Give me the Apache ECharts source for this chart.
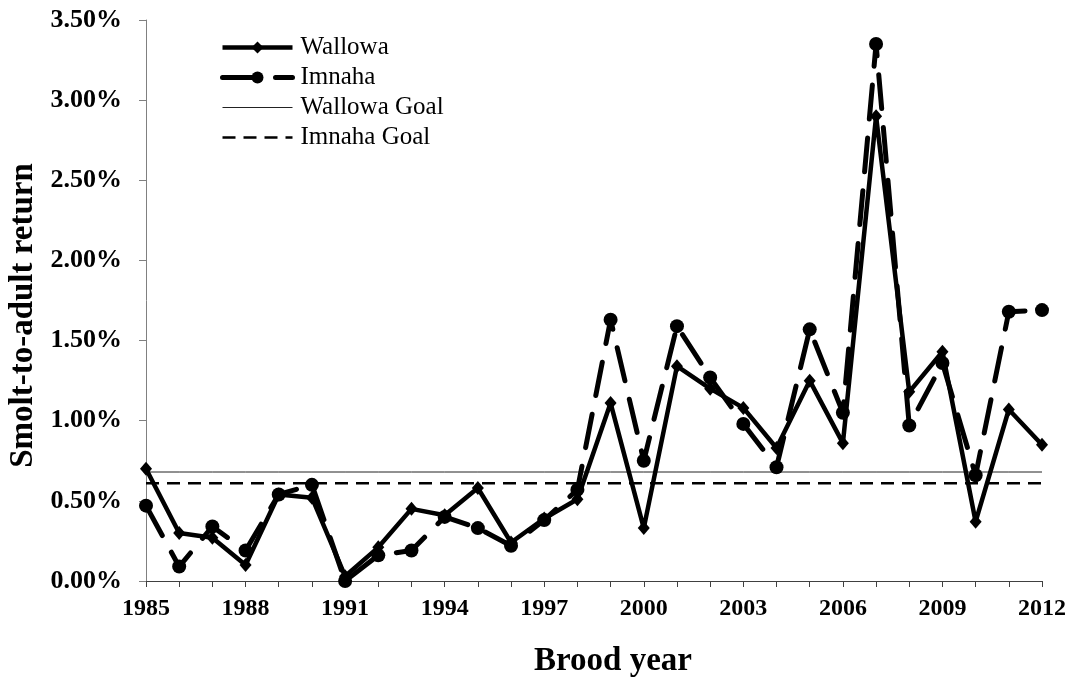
<!DOCTYPE html>
<html>
<head>
<meta charset="utf-8">
<title>Smolt-to-adult return by brood year</title>
<script src="https://cdn.jsdelivr.net/npm/echarts@6/dist/echarts.min.js"></script>
<style>
  html, body { margin: 0; padding: 0; background: #fff; }
  #chart { width: 1073px; height: 678px; }
</style>
</head>
<body>
<div id="chart"></div>
<script>
// Brood years on the x axis
const years = ['1985','1986','1987','1988','1989','1990','1991','1992','1993','1994',
  '1995','1996','1997','1998','1999','2000','2001','2002','2003','2004',
  '2005','2006','2007','2008','2009','2010','2011','2012'];

// Smolt-to-adult return, in percent
const wallowa = [0.70,0.30,0.27,0.10,0.54,0.52,0.03,0.21,0.45,0.41,
  0.58,0.24,0.39,0.51,1.11,0.33,1.34,1.20,1.08,0.83,
  1.25,0.86,2.90,1.18,1.43,0.37,1.07,0.85];
const imnaha = [0.47,0.09,0.34,0.19,0.54,0.60,0.00,0.16,0.19,0.40,
  0.33,0.22,0.38,0.57,1.63,0.75,1.59,1.27,0.98,0.71,
  1.57,1.05,3.35,0.97,1.36,0.66,1.68,1.69];

// Program goals, in percent
const wallowaGoal = 0.68;
const imnahaGoal = 0.61;

const yTicks = { min: 0, max: 3.5, step: 0.5 };

const serif = '"Liberation Serif", "Times New Roman", serif';
const chart = echarts.init(document.getElementById('chart'), null, { renderer: 'canvas' });

// shared line styles for plot and legend
const wallowaLine = { color: '#000', width: 4.5 };
const imnahaLine = { color: '#000', width: 5, type: [34, 19], cap: 'round' };
const wallowaGoalLine = { color: '#222', width: 1 };
const imnahaGoalLine = { color: '#000', width: 2.5, type: [13, 8] };

// goal lines carry no marker, so their legend entries hide the symbol
const noMarker = { opacity: 0 };

chart.setOption({
  animation: false,
  backgroundColor: '#ffffff',
  grid: { left: 146, right: 31, top: 20, bottom: 97, outerBoundsMode: 'none', containLabel: false },
  legend: {
    orient: 'vertical',
    left: 215,
    top: 30,
    itemWidth: 70,
    itemHeight: 15,
    itemGap: 5,
    textStyle: { fontFamily: serif, fontSize: 25, color: '#000', padding: [0, 0, 0, 3] },
    data: [
      { name: 'Wallowa', lineStyle: wallowaLine },
      { name: 'Imnaha', lineStyle: imnahaLine },
      { name: 'Wallowa Goal', lineStyle: wallowaGoalLine, itemStyle: noMarker },
      { name: 'Imnaha Goal', lineStyle: imnahaGoalLine, itemStyle: noMarker }
    ]
  },
  xAxis: {
    type: 'category',
    data: years,
    boundaryGap: false,
    name: 'Brood year',
    nameLocation: 'middle',
    nameGap: 64,
    nameTextStyle: {
      fontFamily: serif, fontSize: 33, fontWeight: 'bold', color: '#000',
      padding: [0, 0, 0, 38]
    },
    axisLine: { lineStyle: { color: '#404040', width: 1 } },
    axisTick: { show: true, interval: 0, length: 6, lineStyle: { color: '#404040' } },
    axisLabel: {
      interval: 2,
      margin: 16,
      fontFamily: serif, fontSize: 24, fontWeight: 'bold', color: '#000'
    },
    splitLine: { show: false }
  },
  yAxis: {
    type: 'value',
    min: yTicks.min,
    max: yTicks.max,
    interval: yTicks.step,
    name: 'Smolt-to-adult return',
    nameLocation: 'middle',
    nameGap: 104,
    nameTextStyle: {
      fontFamily: serif, fontSize: 33, fontWeight: 'bold', color: '#000',
      padding: [0, 30, 0, 0]
    },
    axisLine: { show: true, lineStyle: { color: '#808080', width: 1 } },
    axisTick: { show: true, length: 7, lineStyle: { color: '#808080' } },
    axisLabel: {
      margin: 24,
      formatter: v => v.toFixed(2) + '%',
      fontFamily: serif, fontSize: 26, fontWeight: 'bold', color: '#000'
    },
    splitLine: { show: false }
  },
  series: [
    {
      name: 'Wallowa Goal',
      type: 'line',
      data: years.map(() => wallowaGoal),
      symbol: 'none',
      lineStyle: wallowaGoalLine,
      itemStyle: { color: '#000' },
      z: 1
    },
    {
      name: 'Imnaha Goal',
      type: 'line',
      data: years.map(() => imnahaGoal),
      symbol: 'none',
      lineStyle: imnahaGoalLine,
      itemStyle: { color: '#000' },
      z: 1
    },
    {
      name: 'Wallowa',
      type: 'line',
      data: wallowa,
      symbol: 'diamond',
      symbolSize: [12, 14],
      clip: false,
      lineStyle: wallowaLine,
      itemStyle: { color: '#000' },
      z: 2
    },
    {
      name: 'Imnaha',
      type: 'line',
      data: imnaha,
      symbol: 'circle',
      symbolSize: 14,
      clip: false,
      lineStyle: imnahaLine,
      itemStyle: { color: '#000' },
      z: 3
    }
  ]
});
</script>
</body>
</html>
